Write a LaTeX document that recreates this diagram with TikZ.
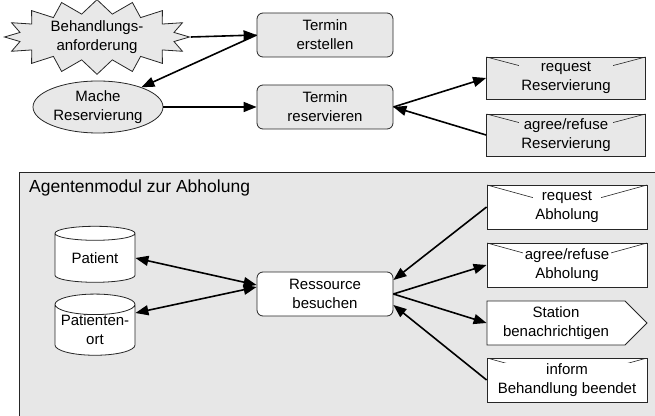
\documentclass[tikz,border=0pt]{standalone}
\usepackage{fontspec}
\setmainfont{Liberation Sans}
\usetikzlibrary{arrows.meta,shapes.geometric,shapes.symbols}
\definecolor{boxgray}{gray}{0.91}
\definecolor{panelgray}{gray}{0.905}

\begin{document}
\begin{tikzpicture}[x=1pt,y=1pt,node distance=72pt,
    font=\fontsize{15}{19}\selectfont,
    >={Triangle[length=13pt,width=10pt]},
    task/.style={draw=black!85,line width=0.8pt,rounded corners=6pt,minimum width=136pt,minimum height=44pt,align=center},
    envelope/.style={draw=black!85,line width=0.8pt,minimum width=159pt,minimum height=42pt,
      path picture={\draw[black!85,line width=0.6pt] (path picture bounding box.north west) -- (path picture bounding box.center) -- (path picture bounding box.north east);}},
    envtext/.style={align=center,inner xsep=2pt,inner ysep=1pt},
    store/.style={draw=black!85,line width=0.8pt,fill=white,cylinder,shape border rotate=90,aspect=0.3,minimum width=80pt,minimum height=56pt,align=center,inner sep=0pt},
    flow/.style={line width=1.6pt}]
      \clip (0,0) rectangle (655,415);

      \node[starburst,random starburst=0,starburst points=16,starburst point height=14pt,draw=black!85,line width=0.8pt,fill=boxgray,align=center,minimum width=185pt,minimum height=55pt,inner sep=0pt] (burst) at (97,378) {Behandlungs-\\anforderung};
      \node[task,fill=boxgray,right of=burst,xshift=156pt,yshift=2pt] (terst) {Termin\\erstellen};
      \node[ellipse,draw=black!85,line width=0.8pt,fill=boxgray,minimum width=130pt,minimum height=52pt,align=center,inner sep=0pt,below of=burst,xshift=1pt,yshift=2pt] (mache) {Mache\\Reservierung};
      \node[task,fill=boxgray,below of=terst] (terres) {Termin\\reservieren};
      \node[envelope,fill=boxgray,right of=terres,xshift=169pt,yshift=29pt] (reqres) {};
      \node[envtext,fill=boxgray] (reqrestext) at (reqres) {request\\Reservierung};
      \node[envelope,fill=boxgray,below of=reqres,yshift=15pt] (agrres) {};
      \node[envtext,fill=boxgray] (agrrestext) at (agrres) {agree/refuse\\Reservierung};

      % Agentenmodul
      \draw[draw=black!85,line width=0.8pt,fill=panelgray] (19,243) rectangle (665,-10);
      \node[anchor=base west,font=\fontsize{17.5}{21}\selectfont,inner sep=0pt] (title) at (29,222) {Agentenmodul zur Abholung};

      \node[task,fill=white,below of=terres,yshift=-115pt] (ress) {Ressource\\besuchen};
      \node[store,left of=ress,xshift=-158pt,yshift=36pt] (patient) {Patient};
      \node[store,below of=patient] (ort) {Patienten-\\ort};
      \node[envelope,fill=white,minimum width=160pt,minimum height=44pt,right of=ress,xshift=170pt,yshift=87pt] (reqab) {};
      \node[envtext,fill=white] (reqabtext) at (reqab) {request\\Abholung};
      \node[envelope,fill=white,minimum width=160pt,minimum height=44pt,below of=reqab,yshift=14pt] (agrab) {};
      \node[envtext,fill=white] (agrabtext) at (agrab) {agree/refuse\\Abholung};
      \node[signal,signal to=east,signal pointer angle=90,draw=black!85,line width=0.8pt,fill=white,minimum width=160pt,minimum height=44pt,align=center,inner xsep=6pt,below of=agrab,xshift=-11pt,yshift=14pt] (station) {Station\\benachrichtigen};
      \node[envelope,fill=white,minimum width=160pt,minimum height=44pt,below of=station,xshift=11pt,yshift=15pt] (inform) {};
      \node[envtext,fill=white] (informtext) at (inform) {inform\\Behandlung beendet};

      \draw[flow,->] (burst.east) -- (terst.west);
      \draw[flow,->] (terst.west) -- (mache);
      \draw[flow,->] (mache) -- (terres);
      \draw[flow,->] (terres.east) -- (reqres.west);
      \draw[flow,->] (agrres.west) -- (terres.east);
      \draw[flow,<->] (patient.east) -- ([yshift=9pt]ress.west);
      \draw[flow,<->] ([yshift=17pt]ort.east) -- ([yshift=7pt]ress.west);
      \draw[flow,->] (reqab.west) -- ([yshift=14pt]ress.east);
      \draw[flow,->] (ress.east) -- (agrab.west);
      \draw[flow,->] (ress.east) -- (station.west);
      \draw[flow,->] (inform.west) -- ([yshift=-11pt]ress.east);
    \end{tikzpicture}
\end{document}
